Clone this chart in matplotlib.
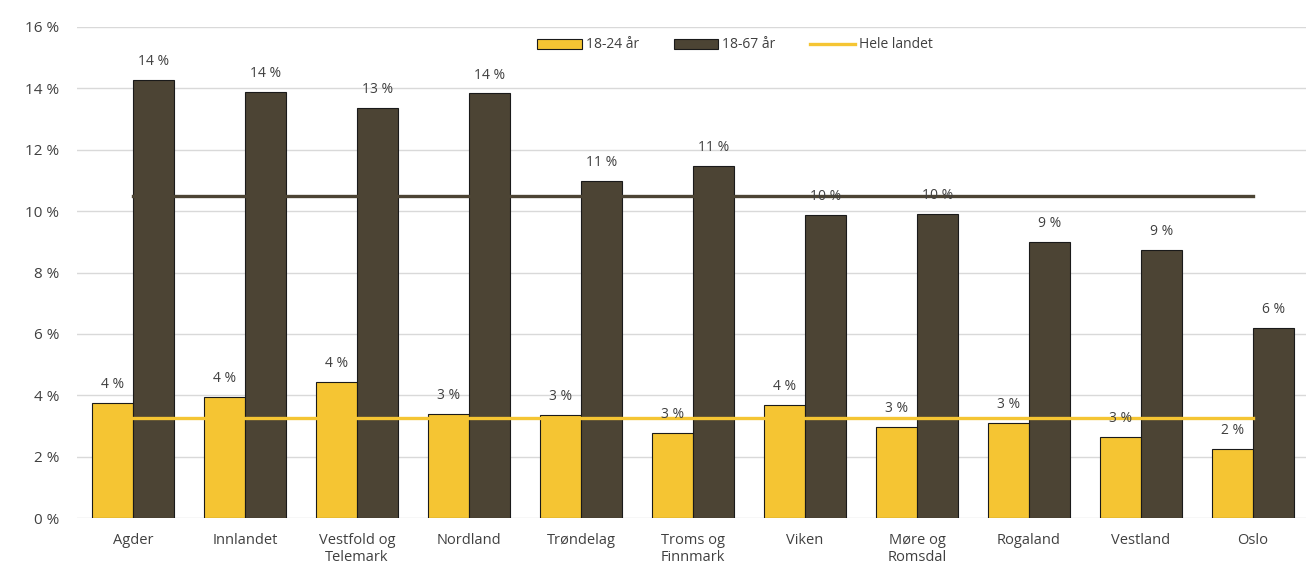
import matplotlib
matplotlib.use("Agg")
import matplotlib.pyplot as plt
import numpy as np
from matplotlib.patches import Patch
from matplotlib.lines import Line2D

plt.rcParams['font.family'] = ['Open Sans', 'DejaVu Sans']

categories = ["Agder", "Innlandet", "Vestfold og\nTelemark", "Nordland", "Trøndelag",
              "Troms og\nFinnmark", "Viken", "Møre og\nRomsdal", "Rogaland", "Vestland", "Oslo"]
young = [3.75, 3.94, 4.43, 3.39, 3.36, 2.77, 3.68, 2.96, 3.09, 2.64, 2.25]
adult = [14.27, 13.88, 13.36, 13.84, 10.98, 11.47, 9.87, 9.90, 8.99, 8.73, 6.19]
national_young = 3.26
national_adult = 10.49
yticks = [0, 2, 4, 6, 8, 10, 12, 14, 16]

YELLOW = "#f5c533"
DARK = "#4c4434"
TEXT = "#404040"

fig = plt.figure(figsize=(13.06, 5.63), dpi=100)
ax = fig.add_axes([77/1306, 45/563, 1232/1306, 491/563])

x = np.arange(len(categories))
w = 0.37
ax.bar(x - w/2, young, w, color=YELLOW, edgecolor="#1a1a1a", linewidth=0.8, zorder=2)
ax.bar(x + w/2, adult, w, color=DARK, edgecolor="#1a1a1a", linewidth=0.8, zorder=2)

ax.plot([x[0], x[-1]], [national_adult, national_adult], color=DARK, lw=2.4, zorder=3)
ax.plot([x[0], x[-1]], [national_young, national_young], color=YELLOW, lw=2.4, zorder=3)

for xi, v in zip(x, young):
    ax.text(xi - w/2, v + 0.35, f"{round(v):.0f} %", ha="center", va="bottom", fontsize=10, color=TEXT, zorder=4)
for xi, v in zip(x, adult):
    ax.text(xi + w/2, v + 0.35, f"{round(v):.0f} %", ha="center", va="bottom", fontsize=10, color=TEXT, zorder=4)

ax.set_xlim(-0.5, len(categories) - 0.5)
ax.set_ylim(0, 16)
ax.set_yticks(yticks)
ax.set_yticklabels([f"{t} %" for t in yticks], fontsize=11, color=TEXT)
ax.set_xticks(x)
ax.set_xticklabels(categories, fontsize=10.5, color=TEXT, linespacing=1.2)
ax.tick_params(axis="both", length=0)
ax.tick_params(axis="y", pad=13)
ax.tick_params(axis="x", pad=11)
ax.yaxis.grid(True, color="#d9d9d9", lw=1, zorder=0)
ax.set_axisbelow(True)
for s in ax.spines.values():
    s.set_visible(False)

handles = [Patch(facecolor=YELLOW, edgecolor="#1a1a1a", linewidth=0.8),
           Patch(facecolor=DARK, edgecolor="#1a1a1a", linewidth=0.8),
           Line2D([0], [0], color=YELLOW, lw=2.4)]
fig.legend(handles, ["18-24 år", "18-67 år", "Hele landet"], loc="center",
           bbox_to_anchor=(735/1306, 1 - 45/563), ncol=3, frameon=False, fontsize=10,
           handlelength=3.2, handleheight=0.7, handletextpad=0.3, columnspacing=2.5,
           labelcolor=TEXT)

fig.savefig("out.png", dpi=100)
